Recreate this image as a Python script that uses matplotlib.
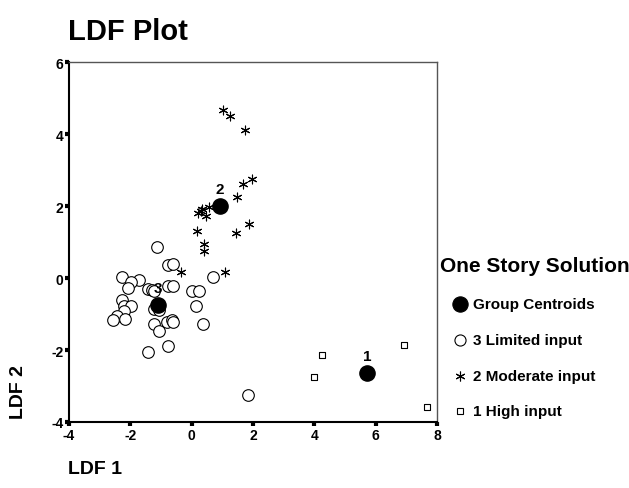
import matplotlib.pyplot as plt
from matplotlib.lines import Line2D

plt.rcParams['font.family'] = ['Liberation Sans', 'DejaVu Sans']
plt.rcParams['font.weight'] = 'bold'
plt.rcParams['axes.unicode_minus'] = False

# discriminant scores per group
limited_x = [-1.13, -0.76, -0.62, -2.28, -1.72, -1.99, -2.07, -1.41, -1.30, -1.23,
             -0.78, -0.60, 0.02, 0.23, 0.70, -2.26, -2.21, -1.98, -2.21, -2.45,
             -2.58, -2.16, -1.22, -1.05, 0.15, -1.22, -1.05, -0.82, -0.65, -0.60,
             0.36, -0.76, -1.42, 1.83]
limited_y = [0.87, 0.36, 0.40, 0.02, -0.05, -0.12, -0.29, -0.31, -0.33, -0.36,
             -0.23, -0.23, -0.37, -0.37, 0.04, -0.61, -0.77, -0.79, -0.91, -1.06,
             -1.16, -1.14, -0.86, -0.89, -0.79, -1.28, -1.48, -1.21, -1.16, -1.23,
             -1.28, -1.88, -2.05, -3.25]

moderate_x = [1.02, 1.25, 1.74, 1.97, 1.67, 1.48, 0.56, 0.34, 0.21, 0.47,
              0.17, 1.45, 1.87, 0.40, 0.40, -0.35, 1.09, 0.30]
moderate_y = [4.67, 4.50, 4.11, 2.75, 2.61, 2.25, 1.97, 1.92, 1.81, 1.72,
              1.31, 1.25, 1.50, 0.94, 0.75, 0.17, 0.17, 1.85]

high_x = [4.25, 3.99, 6.92, 7.66]
high_y = [-2.13, -2.76, -1.86, -3.59]

centroid_x = [5.73, 0.92, -1.11]
centroid_y = [-2.63, 2.00, -0.75]
centroid_labels = ['1', '2', '3']

legend_labels = ['Group Centroids', '3 Limited input', '2 Moderate input', '1 High input']

fig = plt.figure(figsize=(6.29, 4.89), dpi=100)
ax = fig.add_axes([0.1097, 0.135, 0.585, 0.736])

ax.scatter(limited_x, limited_y, s=70, facecolors='white', edgecolors='black',
           linewidths=0.8, zorder=3)
ax.scatter(moderate_x, moderate_y, s=40, marker=(6, 2, 0), color='black',
           linewidths=0.8, zorder=4)
ax.scatter(high_x, high_y, s=22, marker='s', facecolors='white', edgecolors='black',
           linewidths=0.8, zorder=3)
ax.scatter(centroid_x, centroid_y, s=120, color='black', zorder=5)
for cx, cy, lab in zip(centroid_x, centroid_y, centroid_labels):
    ax.text(cx, cy + 0.27, lab, ha='center', va='bottom', fontsize=11,
            fontweight='bold', zorder=6)

ax.set_xlim(-4, 8)
ax.set_ylim(-4, 6)
ax.set_xticks(range(-4, 9, 2))
ax.set_yticks(range(-4, 7, 2))
ax.tick_params(direction='out', length=3, width=3, labelsize=10, pad=1)
for lab in ax.get_xticklabels() + ax.get_yticklabels():
    lab.set_fontweight('bold')

for side in ('left', 'bottom'):
    ax.spines[side].set_color('black')
    ax.spines[side].set_linewidth(1.5)
for side in ('top', 'right'):
    ax.spines[side].set_color('#555555')
    ax.spines[side].set_linewidth(1.0)

fig.text(0.108, 0.935, 'LDF Plot', fontsize=21, fontweight='bold', va='center')
fig.text(0.108, 0.04, 'LDF 1', fontsize=14, fontweight='bold', va='center')
fig.text(0.029, 0.198, 'LDF 2', fontsize=14, fontweight='bold', rotation=90,
         ha='center', va='center')

# legend laid out by hand in figure coordinates
handles = [
    dict(marker='o', ms=11, mfc='black', mec='black', mew=0.8),
    dict(marker='o', ms=8, mfc='white', mec='black', mew=0.8),
    dict(marker=(6, 2, 0), ms=7, mfc='black', mec='black', mew=0.8),
    dict(marker='s', ms=5, mfc='white', mec='black', mew=0.8),
]
legend_rows = [0.376, 0.303, 0.229, 0.158]
fig.text(0.699, 0.454, 'One Story Solution', fontsize=15, fontweight='bold', va='center')
for style, lab, ry in zip(handles, legend_labels, legend_rows):
    fig.add_artist(Line2D([0.731], [ry], ls='none', transform=fig.transFigure, **style))
    fig.text(0.752, ry, lab, fontsize=11, fontweight='bold', va='center')

fig.savefig('out.png', dpi=100)
